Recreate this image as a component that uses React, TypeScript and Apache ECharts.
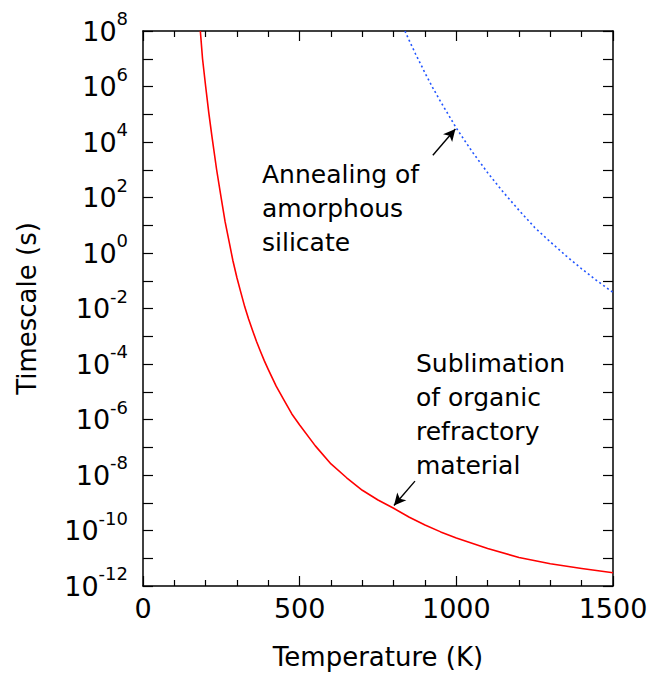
import React, { useEffect, useRef } from "react";
import * as echarts from "echarts";

// Sublimation of organic refractory material (red, solid)
const sublimationT = [183, 190, 200, 210, 220, 235, 250, 262, 275, 287, 300, 312, 325, 337, 350, 362, 375, 387, 400, 425, 450, 475, 500, 550, 600, 650, 700, 750, 800, 850, 900, 950, 1000, 1100, 1200, 1300, 1400, 1500];
const sublimationLog = [8.0, 7.0, 6.0, 5.05, 4.2, 3.0, 1.95, 1.13, 0.4, -0.28, -0.9, -1.41, -1.95, -2.38, -2.8, -3.18, -3.55, -3.88, -4.2, -4.8, -5.3, -5.8, -6.2, -6.95, -7.6, -8.1, -8.55, -8.9, -9.2, -9.52, -9.8, -10.05, -10.27, -10.65, -10.97, -11.2, -11.37, -11.52];

// Annealing of amorphous silicate (blue, dotted)
const annealingT = [836, 850, 870, 900, 925, 950, 1000, 1050, 1100, 1150, 1200, 1250, 1300, 1350, 1400, 1450, 1500];
const annealingLog = [8.0, 7.65, 7.17, 6.49, 5.95, 5.45, 4.5, 3.66, 2.89, 2.19, 1.54, 0.92, 0.4, -0.1, -0.57, -1.01, -1.42];

const xTickLabels = [0, 500, 1000, 1500];
const yLabelExponents = [-12, -10, -8, -6, -4, -2, 0, 2, 4, 6, 8];

// arrows: [from, to] in data units (T, log10 tau)
const annealingArrow = [[925, 3.52], [997, 4.47]];
const sublimationArrow = [[868, -8.22], [801, -9.1]];

const FONT = "DejaVu Sans";

export default function App() {
  const ref = useRef<HTMLDivElement>(null);
  useEffect(() => {
    if (!ref.current) return;
    const chart = echarts.init(ref.current, undefined, { renderer: "svg" });
    const toPairs = (t: number[], l: number[]) => t.map((v, i) => [v, Math.pow(10, l[i])]);
    const arrowData = (a: number[][]) => [[
      { coord: [a[0][0], Math.pow(10, a[0][1])], symbol: "none" },
      { coord: [a[1][0], Math.pow(10, a[1][1])], symbol: "arrow" },
    ]];
    const yFormatter = (v: number) => {
      const e = Math.round(Math.log10(v));
      if (!yLabelExponents.includes(e)) return "";
      return `{b|10}{s|${e}}`;
    };
    const xAxisCommon = {
      type: "value",
      min: 0,
      max: 1500,
      interval: 500,
      axisLine: { show: true, onZero: false, lineStyle: { color: "#000", width: 1.5 } },
      axisTick: { show: true, inside: true, length: 10, lineStyle: { color: "#000", width: 1.2 } },
      minorTick: { show: true, splitNumber: 5, length: 6, lineStyle: { color: "#000", width: 1.2 } },
      splitLine: { show: false },
      minorSplitLine: { show: false },
    };
    const yAxisCommon = {
      type: "log",
      logBase: 10,
      min: 1e-12,
      max: 1e8,
      interval: 1,
      axisLine: { show: true, onZero: false, lineStyle: { color: "#000", width: 1.5 } },
      axisTick: { show: true, inside: true, length: 10, lineStyle: { color: "#000", width: 1.2 } },
      splitLine: { show: false },
    };
    chart.setOption({
      animation: false,
      backgroundColor: "#fff",
      textStyle: { fontFamily: FONT },
      grid: { left: 143, right: 38, top: 31, bottom: 87, containLabel: false },
      xAxis: [
        {
          ...xAxisCommon,
          position: "bottom",
          name: "Temperature (K)",
          nameLocation: "middle",
          nameGap: 58,
          nameTextStyle: { fontFamily: FONT, fontSize: 26, color: "#000" },
          axisLabel: {
            show: true,
            margin: 9,
            fontFamily: FONT,
            fontSize: 27,
            color: "#000",
            formatter: (v: number) => (xTickLabels.includes(v) ? String(v) : ""),
          },
        },
        {
          ...xAxisCommon,
          position: "top",
          axisLabel: { show: false },
        },
      ],
      yAxis: [
        {
          ...yAxisCommon,
          position: "left",
          name: "Timescale (s)",
          nameLocation: "middle",
          nameGap: 103,
          nameRotate: 90,
          nameTextStyle: { fontFamily: FONT, fontSize: 26, color: "#000" },
          axisLabel: {
            show: true,
            margin: 15,
            color: "#000",
            formatter: yFormatter,
            rich: {
              b: { fontFamily: FONT, fontSize: 27, color: "#000", verticalAlign: "bottom", lineHeight: 27 },
              s: { fontFamily: FONT, fontSize: 18, color: "#000", verticalAlign: "bottom", lineHeight: 18, padding: [0, 0, 17, 0] },
            },
          },
        },
        {
          ...yAxisCommon,
          position: "right",
          axisLabel: { show: false },
        },
      ],
      series: [
        {
          name: "Sublimation of organic refractory material",
          type: "line",
          data: toPairs(sublimationT, sublimationLog),
          smooth: false,
          showSymbol: false,
          symbol: "none",
          clip: true,
          lineStyle: { color: "#ff0000", width: 1.6, join: "round" },
          markLine: {
            silent: true,
            symbolSize: [9, 12],
            lineStyle: { color: "#000", width: 1.4, type: "solid" },
            label: { show: false },
            data: arrowData(sublimationArrow),
          },
        },
        {
          name: "Annealing of amorphous silicate",
          type: "line",
          data: toPairs(annealingT, annealingLog),
          smooth: false,
          showSymbol: false,
          symbol: "none",
          clip: true,
          lineStyle: { color: "#2255ff", width: 1.6, type: [2, 2.8] },
          markLine: {
            silent: true,
            symbolSize: [9, 12],
            lineStyle: { color: "#000", width: 1.4, type: "solid" },
            label: { show: false },
            data: arrowData(annealingArrow),
          },
        },
      ],
      graphic: [
        {
          type: "text",
          left: 262,
          top: 157,
          style: {
            text: "Annealing of\namorphous\nsilicate",
            fontFamily: FONT,
            fontSize: 25,
            lineHeight: 34,
            fill: "#000",
          },
        },
        {
          type: "text",
          left: 416,
          top: 346,
          style: {
            text: "Sublimation\nof organic\nrefractory\nmaterial",
            fontFamily: FONT,
            fontSize: 25,
            lineHeight: 34,
            fill: "#000",
          },
        },
      ],
    });
    return () => chart.dispose();
  }, []);
  return <div ref={ref} style={{ width: 651, height: 675, position: "absolute", left: 0, top: 0 }} />;
}
